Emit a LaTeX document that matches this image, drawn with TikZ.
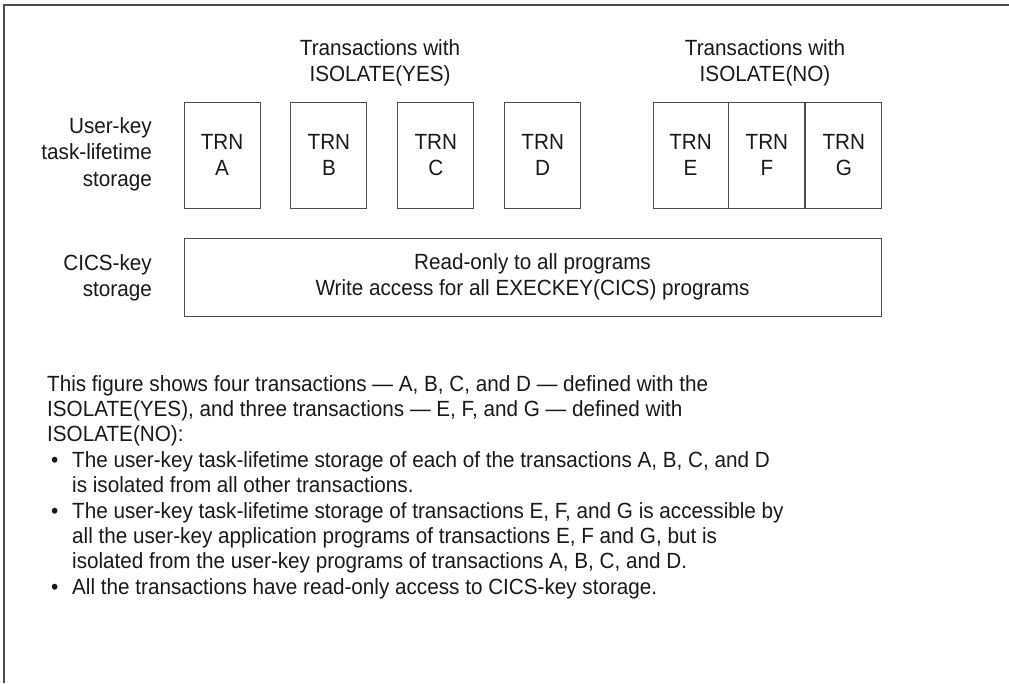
\documentclass[tikz,border=0pt]{standalone}
\usepackage{fontspec}
\setmainfont{Liberation Sans}[FakeStretch=0.94]
\usepackage{tikz}
\usetikzlibrary{positioning}

\definecolor{ink}{gray}{0.10}
\definecolor{rule}{gray}{0.30}

\newcommand{\bul}{\makebox[25pt][l]{\hspace{4pt}\textbullet}}
\newcommand{\ind}{\hspace*{25pt}}

\begin{document}
\begin{tikzpicture}[x=1pt, y=-1pt, node distance=30pt, text=ink,
    every node/.style={font=\fontsize{22}{26.5}\selectfont},
    trnbox/.style={draw=rule, line width=0.9pt, minimum width=76pt, minimum height=106pt, inner sep=0pt, align=center},
    hdr/.style={align=center, inner sep=0pt},
    sidelbl/.style={align=right, anchor=east, inner sep=0pt}]
				\useasboundingbox (0,0) rectangle (1009,683);
				\draw [rule, line width=1.2pt] (4,683) -- (4,5) -- (1009,5);
				
				% headers
				\node [hdr] (hdryes) at (380,63) {Transactions with\\ISOLATE(YES)};
				\node [hdr] (hdrno) at (765,63) {Transactions with\\ISOLATE(NO)};
				
				% isolated transactions
				\node [trnbox] (trnA) at (222,155) {TRN\\A};
				\node [trnbox, right=of trnA] (trnB) {TRN\\B};
				\node [trnbox, right=of trnB] (trnC) {TRN\\C};
				\node [trnbox, right=of trnC] (trnD) {TRN\\D};
				
				% shared transactions
				\node [trnbox, minimum width=75pt] (trnE) at (690.5,155) {TRN\\E};
				\node [trnbox, right=0pt of trnE] (trnF) {TRN\\F};
				\node [trnbox, right=0pt of trnF] (trnG) {TRN\\G};
				
				\node [sidelbl] (ukey) at (152,154) {User-key\\task-lifetime\\storage};
				
				% CICS-key storage
				\node [draw=rule, line width=0.9pt, minimum width=697pt, minimum height=78pt, align=center] (cics) at (532.5,277) {Read-only to all programs\\Write access for all EXECKEY(CICS) programs};
				\node [sidelbl] (ckey) at (152,278) {CICS-key\\storage};
				
				% caption
				\node [anchor=north west, align=left, inner sep=0pt, font=\fontsize{22}{25.4}\selectfont] (desc) at (47,375) {%
This figure shows four transactions — A, B, C, and D — defined with the\\
ISOLATE(YES), and three transactions — E, F, and G — defined with\\
ISOLATE(NO):\\
\bul The user-key task-lifetime storage of each of the transactions A, B, C, and D\\
\ind is isolated from all other transactions.\\
\bul The user-key task-lifetime storage of transactions E, F, and G is accessible by\\
\ind all the user-key application programs of transactions E, F and G, but is\\
\ind isolated from the user-key programs of transactions A, B, C, and D.\\
\bul All the transactions have read-only access to CICS-key storage.};
			\end{tikzpicture}
\end{document}
